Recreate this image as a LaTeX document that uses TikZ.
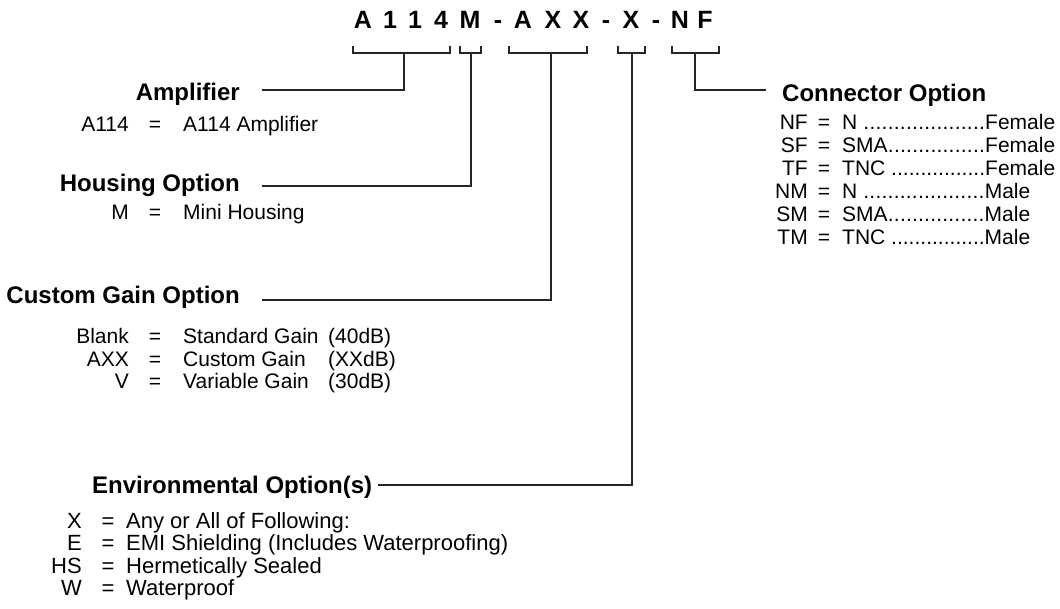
\documentclass[tikz,border=0pt]{standalone}
\usepackage{fontspec}
\setmainfont{Liberation Sans}
\usetikzlibrary{positioning}

\tikzset{
  partchar/.style={font=\fontsize{25}{30}\selectfont\bfseries, inner sep=0pt, anchor=base},
  optname/.style={font=\fontsize{24}{28}\selectfont\bfseries, inner sep=0pt},
  entry/.style={font=\fontsize{21}{25}\selectfont, inner sep=0pt},
  enventry/.style={font=\fontsize{22}{26}\selectfont, inner sep=0pt},
  wire/.style={line width=1.3pt, black!85}
}

\begin{document}
\begin{tikzpicture}[x=1pt,y=-1pt]
  \useasboundingbox (0,0) rectangle (1060,608);

  % part number
  \foreach \x/\c [count=\i] in {363/A,390/1,415/1,441/4,470/M,498/-,523/A,553/X,581/X,606/-,631/X,656/-,680/N,705/F}
    \node[partchar] (pc\i) at (\x,28) {\c};

  % brackets
  \foreach \l/\r/\s/\n in {353/450/404/amp, 460/481/471/hous, 509/587/551/gain, 618/645/632/env, 672/719/695/conn} {
    \draw[wire] (\l,46) -- (\l,53) -- (\r,53) -- (\r,46);
    \coordinate (br\n) at (\s,53);
  }

  % option names
  \node[optname, anchor=base east] (amp) at (240,100) {Amplifier};
  \node[optname, anchor=base east] (hous) at (240,191) {Housing Option};
  \node[optname, anchor=base east] (gain) at (240,303) {Custom Gain Option};
  \node[optname, anchor=base west] (env) at (92,493) {Environmental Option(s)};
  \node[optname, anchor=base west] (conn) at (782,101) {Connector Option};

  \coordinate (ampend) at (262,90);
  \coordinate (housend) at (262,186);
  \coordinate (gainend) at (262,300);
  \coordinate (envend) at (378,485);
  \coordinate (connend) at (766,90);

  \draw[wire] (bramp) |- (ampend);
  \draw[wire] (brhous) |- (housend);
  \draw[wire] (brgain) |- (gainend);
  \draw[wire] (brenv) |- (envend);
  \draw[wire] (brconn) |- (connend);

  % amplifier and housing
  \foreach \y/\k/\v in {131/A114/A114 Amplifier, 219/M/Mini Housing} {
    \node[entry, anchor=base east] (key\k) at (129,\y) {\k};
    \node[entry, anchor=base] (eq\k) at (155,\y) {=};
    \node[entry, anchor=base west] (val\k) at (183,\y) {\v};
  }

  % gain
  \foreach \y/\k/\v/\g in {343/Blank/Standard Gain/{(40dB)}, 366/AXX/Custom Gain/{(XXdB)}, 388/V/Variable Gain/{(30dB)}} {
    \node[entry, anchor=base east] (gk\k) at (129,\y) {\k};
    \node[entry, anchor=base] (ge\k) at (155,\y) {=};
    \node[entry, anchor=base west] (gv\k) at (183,\y) {\v};
    \node[entry, anchor=base west] (gd\k) at (328,\y) {\g};
  }

  % environmental
  \foreach \y/\k/\v in {528/X/Any or All of Following:, 550/E/EMI Shielding (Includes Waterproofing), 573/HS/Hermetically Sealed, 595/W/Waterproof} {
    \node[enventry, anchor=base east] (ek\k) at (82,\y) {\k};
    \node[enventry, anchor=base] (ee\k) at (108,\y) {=};
    \node[enventry, anchor=base west] (ev\k) at (126,\y) {\v};
  }

  % connector
  \foreach \y/\k/\t/\w/\s in {129/NF/{N\ }/213/Female, 152/SF/SMA/213/Female, 175/TF/{TNC\ }/213/Female,
                              198/NM/{N\ }/188/Male, 221/SM/SMA/188/Male, 244/TM/{TNC\ }/188/Male} {
    \node[entry, anchor=base east] (ck\k) at (808,\y) {\k};
    \node[entry, anchor=base] (ce\k) at (824,\y) {=};
    \node[entry, anchor=base west] (cv\k) at (842,\y) {\hbox to \w pt{\t\xleaders\hbox{.}\hfill\s}};
  }
\end{tikzpicture}
\end{document}
